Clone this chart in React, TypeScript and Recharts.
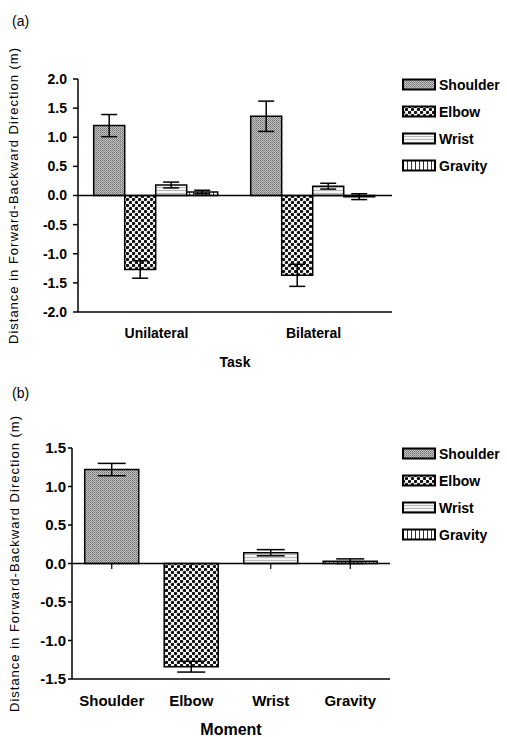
import React from 'react';
import { BarChart, Bar, XAxis, YAxis, ReferenceLine, ErrorBar, Cell } from 'recharts';

const FONT = "'Liberation Sans', Arial, sans-serif";

// legend / series names
const SERIES = ['Shoulder', 'Elbow', 'Wrist', 'Gravity'];

// panel (a): by task
const TASKS = ['Unilateral', 'Bilateral'];
const SHOULDER = [1.2, 1.36];
const SHOULDER_ERR = [0.19, 0.26];
const ELBOW = [-1.27, -1.37];
const ELBOW_ERR = [0.15, 0.19];
const WRIST = [0.18, 0.16];
const WRIST_ERR = [0.05, 0.05];
const GRAVITY = [0.06, -0.02];
const GRAVITY_ERR = [0.03, 0.05];
const TICKS_A = [-2, -1.5, -1, -0.5, 0, 0.5, 1, 1.5, 2];

// panel (b): by moment
const MOMENTS = ['Shoulder', 'Elbow', 'Wrist', 'Gravity'];
const MOMENT_MEAN = [1.22, -1.34, 0.14, 0.03];
const MOMENT_ERR = [0.08, 0.07, 0.04, 0.03];
const TICKS_B = [-1.5, -1, -0.5, 0, 0.5, 1, 1.5];

const Y_TITLE = 'Distance in Forward-Backward Direction (m)';

const dataA = TASKS.map((task, i) => ({
  task,
  Shoulder: SHOULDER[i], ShoulderErr: SHOULDER_ERR[i],
  Elbow: ELBOW[i], ElbowErr: ELBOW_ERR[i],
  Wrist: WRIST[i], WristErr: WRIST_ERR[i],
  Gravity: GRAVITY[i], GravityErr: GRAVITY_ERR[i],
}));

const dataB = MOMENTS.map((moment, i) => ({ moment, value: MOMENT_MEAN[i], err: MOMENT_ERR[i] }));

const fmt = (v: number) => v.toFixed(1);

const tickStyle = { fontFamily: FONT, fontSize: 14, fontWeight: 700, fill: '#000' };

function Patterns() {
  return (
    <svg width={0} height={0} style={{ position: 'absolute' }}>
      <defs>
        <pattern id="pat-Shoulder" width={2} height={2} patternUnits="userSpaceOnUse">
          <rect width={2} height={2} fill="#c4c4c4" />
          <rect width={1} height={1} fill="#707070" />
          <rect x={1} y={1} width={1} height={1} fill="#8a8a8a" />
        </pattern>
        <pattern id="pat-Elbow" width={6} height={6} patternUnits="userSpaceOnUse">
          <rect width={6} height={6} fill="#fff" />
          <circle cx={1.5} cy={1.5} r={1.7} fill="#111" />
          <circle cx={4.5} cy={4.5} r={1.7} fill="#111" />
        </pattern>
        <pattern id="pat-Wrist" width={4} height={3} patternUnits="userSpaceOnUse">
          <rect width={4} height={3} fill="#f4f4f4" />
          <rect y={1} width={4} height={1} fill="#b8b8b8" />
        </pattern>
        <pattern id="pat-Gravity" width={4} height={4} patternUnits="userSpaceOnUse">
          <rect width={4} height={4} fill="#fff" />
          <rect x={1} width={1} height={4} fill="#333" />
        </pattern>
      </defs>
    </svg>
  );
}

function LegendBox({ top }: { top: number }) {
  return (
    <div style={{ position: 'absolute', left: 402, top, width: 105 }}>
      {SERIES.map((s) => (
        <div key={s} style={{ display: 'flex', alignItems: 'center', height: 27 }}>
          <svg width={35} height={13}>
            <rect x={1} y={1.5} width={32} height={10} fill={`url(#pat-${s})`} stroke="#000" strokeWidth={2} />
          </svg>
          <span style={{ fontFamily: FONT, fontSize: 14, fontWeight: 700, marginLeft: 2, color: '#000' }}>{s}</span>
        </div>
      ))}
    </div>
  );
}

function PanelA() {
  return (
    <BarChart width={507} height={370} data={dataA} margin={{ top: 79, right: 115, left: 0, bottom: 0 }}
      barCategoryGap="10%" barGap={0}>
      <XAxis dataKey="task" height={58} axisLine={{ stroke: '#000', strokeWidth: 1.5 }} tickLine={false}
        tickMargin={10} tick={tickStyle}
        label={{ value: 'Task', position: 'insideBottom', offset: 3, style: { fontFamily: FONT, fontSize: 14, fontWeight: 700, fill: '#000' } }} />
      <XAxis xAxisId="top" dataKey="task" orientation="top" height={0} tick={false} tickLine={false}
        axisLine={{ stroke: '#000', strokeWidth: 1.5 }} />
      <YAxis width={78} domain={[-2, 2]} ticks={TICKS_A} tickFormatter={fmt} tick={tickStyle} tickSize={5} tickMargin={6}
        axisLine={{ stroke: '#000', strokeWidth: 1.5 }} tickLine={{ stroke: '#000', strokeWidth: 1.5 }}
        label={{ value: Y_TITLE, angle: -90, position: 'insideLeft', offset: 13, style: { textAnchor: 'middle', fontFamily: FONT, fontSize: 13, letterSpacing: 1, fill: '#000' } }} />
      <YAxis yAxisId="right" orientation="right" width={0} domain={[-2, 2]} tick={false} tickLine={false}
        axisLine={{ stroke: '#000', strokeWidth: 1.5 }} />
      {SERIES.map((s) => (
        <Bar key={s} dataKey={s} fill={`url(#pat-${s})`} stroke="#000" strokeWidth={1.5} isAnimationActive={false}>
          <ErrorBar dataKey={`${s}Err`} direction="y" width={8} stroke="#000" strokeWidth={1.5} />
        </Bar>
      ))}
      <ReferenceLine y={0} stroke="#000" strokeWidth={1.5} />
    </BarChart>
  );
}

function PanelB() {
  return (
    <BarChart width={507} height={367} data={dataB} margin={{ top: 78, right: 117, left: 0, bottom: 0 }}
      barCategoryGap="16%">
      <XAxis dataKey="moment" height={58} axisLine={{ stroke: '#000', strokeWidth: 1.5 }} tickLine={false}
        tickMargin={10} tick={{ ...tickStyle, fontSize: 15 }}
        label={{ value: 'Moment', position: 'insideBottom', offset: 2, style: { fontFamily: FONT, fontSize: 16, fontWeight: 700, fill: '#000' } }} />
      <XAxis xAxisId="top" dataKey="moment" orientation="top" height={0} tick={false} tickLine={false}
        axisLine={{ stroke: '#000', strokeWidth: 1.5 }} />
      <YAxis width={72} domain={[-1.5, 1.5]} ticks={TICKS_B} tickFormatter={fmt} tick={{ ...tickStyle, fontSize: 15 }} tickSize={4} tickMargin={2}
        axisLine={{ stroke: '#000', strokeWidth: 1.5 }} tickLine={{ stroke: '#000', strokeWidth: 1.5 }}
        label={{ value: Y_TITLE, angle: -90, position: 'insideLeft', offset: 14, style: { textAnchor: 'middle', fontFamily: FONT, fontSize: 13, letterSpacing: 1, fill: '#000' } }} />
      <YAxis yAxisId="right" orientation="right" width={0} domain={[-1.5, 1.5]} tick={false} tickLine={false}
        axisLine={{ stroke: '#000', strokeWidth: 1.5 }} />
      <Bar dataKey="value" stroke="#000" strokeWidth={1.5} isAnimationActive={false}>
        {MOMENTS.map((m) => <Cell key={m} fill={`url(#pat-${m})`} />)}
        <ErrorBar dataKey="err" direction="y" width={14} stroke="#000" strokeWidth={1.5} />
      </Bar>
      <ReferenceLine y={0} stroke="#000" strokeWidth={1.5} />
      {MOMENTS.map((m) => (
        <ReferenceLine key={m} segment={[{ x: m, y: 0 }, { x: m, y: -0.07 }]} stroke="#000" strokeWidth={1.2} />
      ))}
    </BarChart>
  );
}

export default function App() {
  return (
    <div style={{ position: 'absolute', left: 0, top: 0, width: 507, height: 737, background: '#fff' }}>
      <Patterns />
      <div style={{ position: 'absolute', left: 12, top: 13, fontFamily: FONT, fontSize: 14 }}>(a)</div>
      <div style={{ position: 'absolute', left: 0, top: 0 }}>
        <PanelA />
      </div>
      <LegendBox top={71} />
      <div style={{ position: 'absolute', left: 12, top: 385, fontFamily: FONT, fontSize: 14 }}>(b)</div>
      <div style={{ position: 'absolute', left: 0, top: 370 }}>
        <PanelB />
      </div>
      <LegendBox top={440} />
    </div>
  );
}
